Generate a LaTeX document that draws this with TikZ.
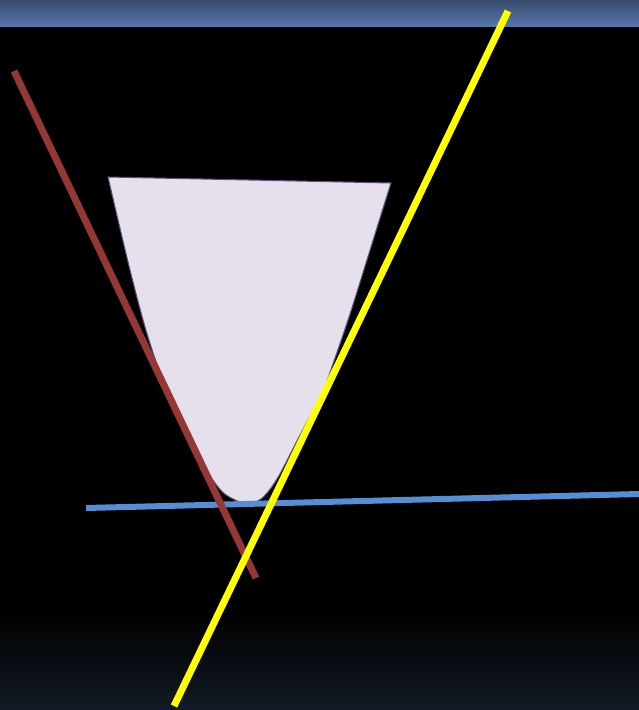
\documentclass[tikz,border=0pt]{standalone}
\usepackage{tikz}

\definecolor{bandtop}{HTML}{3A4B6B}
\definecolor{bandbot}{HTML}{5676AA}
\definecolor{floorbot}{HTML}{121A24}
\definecolor{cupfill}{HTML}{E5E0EC}
\definecolor{cupedge}{HTML}{5E4E7E}
\definecolor{redline}{HTML}{953735}
\definecolor{blueline}{HTML}{558ED5}
\definecolor{yellowline}{HTML}{FFFF00}

\begin{document}
\begin{tikzpicture}[
    x=0.02cm, y=-0.02cm,
    stroke/.style={line width=0.14cm}
]

\useasboundingbox (0,0) rectangle (639,710);

% background
\fill[black] (0,0) rectangle (639,710);
\shade[top color=bandtop, bottom color=bandbot] (0,0) rectangle (639,26);
\shade[top color=black, bottom color=floorbot] (0,612) rectangle (639,710);

% the cup
\draw[fill=cupfill, draw=cupedge, line width=0.6pt]
    plot[smooth, tension=0.55] coordinates {
        (108,177) (130,270) (148,337) (169,397) (194,449) (218,487)
        (233,499) (247,503) (261,499) (277,479) (299,437) (322,393)
        (334,361) (351,311) (371,247) (391,183)}
    -- cycle;

% the three lines
\coordinate (blue a) at (86,508);
\coordinate (blue b) at (639,494);
\coordinate (red a) at (14,71);
\coordinate (red b) at (256,578);
\coordinate (yellow a) at (508,11);
\coordinate (yellow b) at (174,706);

\draw[stroke, blueline, line width=0.12cm] (blue a) -- (blue b);
\draw[stroke, redline] (red a) -- (red b);
\draw[stroke, yellowline] (yellow a) -- (yellow b);

\end{tikzpicture}
\end{document}
